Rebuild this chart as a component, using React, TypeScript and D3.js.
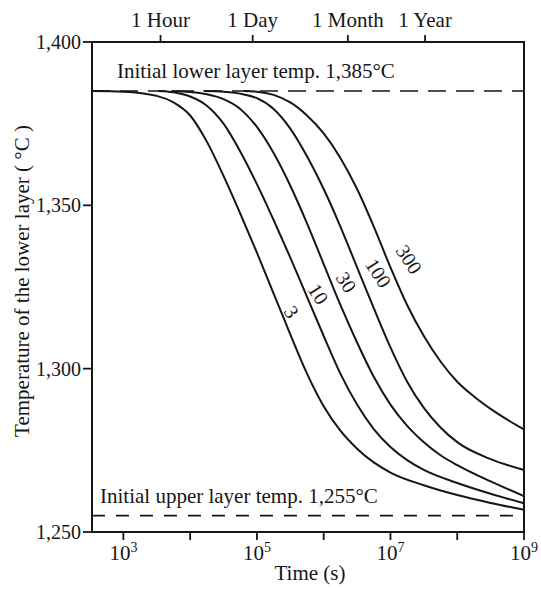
import React from 'react';
import * as d3 from 'd3';

// ---------- data ----------
const tempTicks = [1250, 1300, 1350, 1400];
const decadeExponents = [3, 4, 5, 6, 7, 8, 9];
const labeledExponents = [3, 5, 7, 9];
const timeMarkLabels = ['1 Hour', '1 Day', '1 Month', '1 Year'];
const timeMarkSeconds = [3600, 86400, 2.3e6, 3.3e7];
const initialLowerTemp = 1385;
const initialUpperTemp = 1255;

const curveNames = ['3', '10', '30', '100', '300'];
// log10(time in s) and temperature (°C)
const c3LogT = [2.53, 3.0, 3.5, 3.75, 4.0, 4.25, 4.5, 4.75, 5.0, 5.25, 5.5, 5.75, 6.0, 6.25, 6.5, 6.75, 7.0, 7.5, 8.0, 8.5, 9.0];
const c3Temp = [1385, 1384.8, 1383.5, 1381.5, 1377.5, 1369.5, 1359, 1347.5, 1335.5, 1323, 1310.5, 1298.5, 1288.5, 1281, 1275.5, 1271.3, 1268.2, 1264.3, 1261.3, 1258.9, 1256.8];
const c10LogT = [3.52, 3.75, 4.0, 4.25, 4.5, 4.75, 5.0, 5.25, 5.5, 5.75, 6.0, 6.25, 6.5, 6.75, 7.0, 7.25, 7.5, 8.0, 8.5, 9.0];
const c10Temp = [1385, 1384.6, 1383.3, 1380.5, 1375, 1366.5, 1356.5, 1345.5, 1334, 1322, 1310, 1298.5, 1289, 1281.5, 1276, 1272, 1269, 1265, 1261.7, 1258.8];
const c30LogT = [3.72, 4.0, 4.25, 4.5, 4.75, 5.0, 5.25, 5.5, 5.75, 6.0, 6.25, 6.5, 6.75, 7.0, 7.25, 7.5, 7.75, 8.0, 8.5, 9.0];
const c30Temp = [1385, 1384.7, 1384, 1382.5, 1379.5, 1374, 1366, 1356, 1344.5, 1332, 1319.5, 1308, 1297.5, 1289, 1282.5, 1277.5, 1273.5, 1270.5, 1265.5, 1261];
const c100LogT = [4.2, 4.5, 4.75, 5.0, 5.25, 5.5, 5.75, 6.0, 6.25, 6.5, 6.75, 7.0, 7.25, 7.5, 7.75, 8.0, 8.5, 9.0];
const c100Temp = [1385, 1384.8, 1384.2, 1382.8, 1379.5, 1373.5, 1365, 1355, 1343.5, 1331, 1318.5, 1306.5, 1296, 1288, 1282, 1277.5, 1272.3, 1269];
const c300LogT = [4.8, 5.0, 5.25, 5.5, 5.75, 6.0, 6.25, 6.5, 6.75, 7.0, 7.25, 7.5, 7.75, 8.0, 8.25, 8.5, 8.75, 9.0];
const c300Temp = [1385, 1384.8, 1383.8, 1381.5, 1377.5, 1372, 1364.5, 1355, 1343.5, 1331, 1319.5, 1310, 1302.2, 1296, 1291.5, 1287.7, 1284.4, 1281.4];

// curve label anchors (log10 t, °C)
const labelLogT = [5.52, 5.92, 6.34, 6.82, 7.28];
const labelTemp = [1317.4, 1322.9, 1326.5, 1329.3, 1333.5];

const curveLogT = [c3LogT, c10LogT, c30LogT, c100LogT, c300LogT];
const curveTemp = [c3Temp, c10Temp, c30Temp, c100Temp, c300Temp];

// ---------- layout ----------
const W = 541;
const H = 589;
const left = 92;
const right = 524;
const top = 42;
const bottom = 532;
const ink = '#161616';
const font = '"Liberation Serif", "Times New Roman", serif';

export default function App() {
  const x = d3.scaleLog().domain([Math.pow(10, 2.53), 1e9]).range([left, right]);
  const y = d3.scaleLinear().domain([1250, 1400]).range([bottom, top]);
  const fmt = d3.format(',');

  const line = d3
    .line<[number, number]>()
    .x((d) => x(Math.pow(10, d[0])))
    .y((d) => y(d[1]))
    .curve(d3.curveMonotoneX);

  return (
    <svg
      width={W}
      height={H}
      style={{ position: 'absolute', left: 0, top: 0, background: '#fff' }}
      fontFamily={font}
    >
      <rect x={0} y={0} width={W} height={H} fill="#fff" />

      {/* frame */}
      <rect x={left} y={top} width={right - left} height={bottom - top} fill="none" stroke={ink} strokeWidth={2} />

      {/* left ticks */}
      {tempTicks.map((t) => (
        <g key={t}>
          <line x1={left - 9} x2={left} y1={y(t)} y2={y(t)} stroke={ink} strokeWidth={1.8} />
          <text x={left - 11} y={y(t)} dy="0.35em" textAnchor="end" fontSize={20} fill={ink}>
            {fmt(t)}
          </text>
        </g>
      ))}

      {/* bottom ticks */}
      {decadeExponents.map((e) => (
        <line key={e} x1={x(Math.pow(10, e))} x2={x(Math.pow(10, e))} y1={bottom} y2={bottom + 8} stroke={ink} strokeWidth={1.8} />
      ))}
      {labeledExponents.map((e) => (
        <text key={e} x={x(Math.pow(10, e))} y={560} textAnchor="middle" fontSize={21} fill={ink}>
          10
          <tspan fontSize={14} dy={-8}>
            {e}
          </tspan>
        </text>
      ))}

      {/* top time marks */}
      {timeMarkSeconds.map((s, i) => (
        <g key={i}>
          <line x1={x(s)} x2={x(s)} y1={top} y2={top - 7} stroke={ink} strokeWidth={1.8} />
          <text x={x(s)} y={27} textAnchor="middle" fontSize={21} fill={ink}>
            {timeMarkLabels[i]}
          </text>
        </g>
      ))}

      {/* initial temperature lines */}
      <line x1={left} x2={right} y1={y(initialLowerTemp)} y2={y(initialLowerTemp)} stroke={ink} strokeWidth={1.6} strokeDasharray="18 10" />
      <line x1={left} x2={right} y1={y(initialUpperTemp)} y2={y(initialUpperTemp)} stroke={ink} strokeWidth={1.6} strokeDasharray="13 11" />
      <text x={117} y={78} fontSize={21} fill={ink}>
        Initial lower layer temp. 1,385°C
      </text>
      <text x={100} y={503} fontSize={21} fill={ink}>
        Initial upper layer temp. 1,255°C
      </text>

      {/* curves */}
      {curveNames.map((n, i) => {
        const pts = curveLogT[i].map((l, j) => [l, curveTemp[i][j]] as [number, number]);
        return <path key={n} d={line(pts) || ''} fill="none" stroke={ink} strokeWidth={2} />;
      })}
      {curveNames.map((n, i) => {
        const lx = x(Math.pow(10, labelLogT[i]));
        const ly = y(labelTemp[i]);
        return (
          <text key={n} x={lx} y={ly} dy="0.35em" textAnchor="middle" fontSize={20} fill={ink} transform={`rotate(57 ${lx} ${ly})`}>
            {n}
          </text>
        );
      })}

      {/* axis titles */}
      <text x={310} y={580} textAnchor="middle" fontSize={21} fill={ink}>
        Time (s)
      </text>
      <text transform="translate(29 281) rotate(-90)" textAnchor="middle" fontSize={21} fill={ink}>
        Temperature of the lower layer ( °C )
      </text>
    </svg>
  );
}
